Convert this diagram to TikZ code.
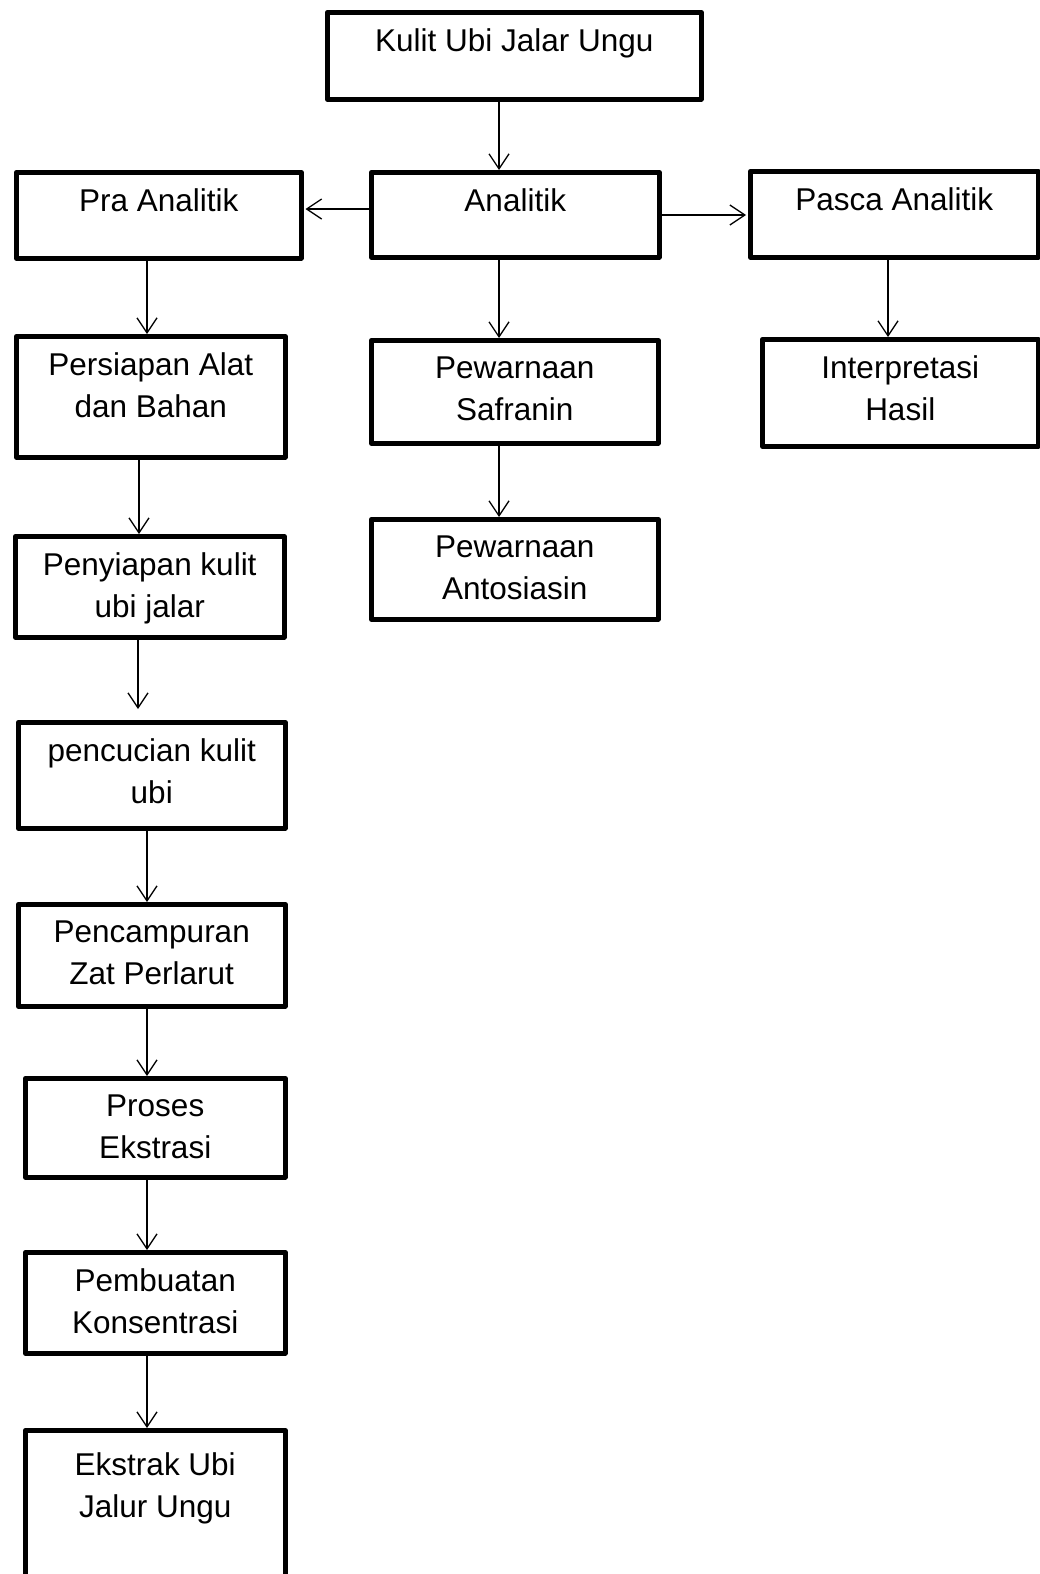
\documentclass[tikz,border=0pt]{standalone}
\usepackage{fontspec}
\setmainfont{Liberation Sans}
\usetikzlibrary{arrows.meta}
\newcommand\flowbox[7]{\node[fbox] (#1) at (#2,#3) {\parbox[t][\dimexpr #5pt-#3pt\relax][t]{\dimexpr #4pt-#2pt\relax}{\centering\vspace*{#6pt}#7}};}
\tikzset{
  fbox/.style={draw, line width=4.5pt, inner sep=0pt, line join=round, anchor=north west},
  arr/.style={line width=1.3pt, -{Straight Barb[length=15pt, width=20pt]}}
}
\begin{document}
\begin{tikzpicture}[x=1pt, y=-1pt, font=\fontsize{31.5}{42}\selectfont]
\useasboundingbox (0,0) rectangle (1040,1574);
\clip (0,0) rectangle (1040,1574);
\flowbox{kulit}{325}{10}{699}{97}{16.5}{Kulit Ubi Jalar Ungu}
\flowbox{analitik}{369}{170}{657}{255}{16.5}{Analitik}
\flowbox{pra}{14}{170}{299}{256}{16.5}{Pra Analitik}
\flowbox{pasca}{748}{169}{1036}{255}{16.5}{Pasca Analitik}
\flowbox{interp}{760}{337}{1036}{444}{16.5}{Interpretasi\\Hasil}
\flowbox{safranin}{369}{338}{656}{441}{16.5}{Pewarnaan\\Safranin}
\flowbox{antosiasin}{369}{517}{656}{617}{16.5}{Pewarnaan\\Antosiasin}
\flowbox{persiapan}{14}{334}{283}{455}{16.5}{Persiapan Alat\\dan Bahan}
\flowbox{penyiapan}{13}{534}{282}{635}{16.5}{Penyiapan kulit\\ubi jalar}
\flowbox{pencucian}{16}{720}{283}{826}{16.5}{pencucian kulit\\ubi}
\flowbox{pencampuran}{16}{902}{283}{1004}{16.5}{Pencampuran\\Zat Perlarut}
\flowbox{proses}{23}{1076}{283}{1175}{16.5}{Proses\\Ekstrasi}
\flowbox{pembuatan}{23}{1250}{283}{1351}{16.5}{Pembuatan\\Konsentrasi}
\flowbox{ekstrak}{23}{1428}{283}{1600}{22}{Ekstrak Ubi\\Jalur Ungu}
\draw[arr] (kulit.south -| 499,0) -- (analitik.north -| 499,0);
\draw[arr] (analitik.south -| 499,0) -- (safranin.north -| 499,0);
\draw[arr] (safranin.south -| 499,0) -- (antosiasin.north -| 499,0);
\draw[arr] (analitik.west |- 0,209) -- ([xshift=2pt]pra.east |- 0,209);
\draw[arr] (analitik.east |- 0,215) -- ([xshift=-2pt]pasca.west |- 0,215);
\draw[arr] (pasca.south -| 888,0) -- (interp.north -| 888,0);
\draw[arr] (pra.south -| 147,0) -- (persiapan.north -| 147,0);
\draw[arr] (persiapan.south -| 139,0) -- (penyiapan.north -| 139,0);
\draw[arr, shorten >=11pt] (penyiapan.south -| 138,0) -- (pencucian.north -| 138,0);
\draw[arr] (pencucian.south -| 147,0) -- (pencampuran.north -| 147,0);
\draw[arr] (pencampuran.south -| 147,0) -- (proses.north -| 147,0);
\draw[arr] (proses.south -| 147,0) -- (pembuatan.north -| 147,0);
\draw[arr] (pembuatan.south -| 147,0) -- (ekstrak.north -| 147,0);
\end{tikzpicture}
\end{document}
